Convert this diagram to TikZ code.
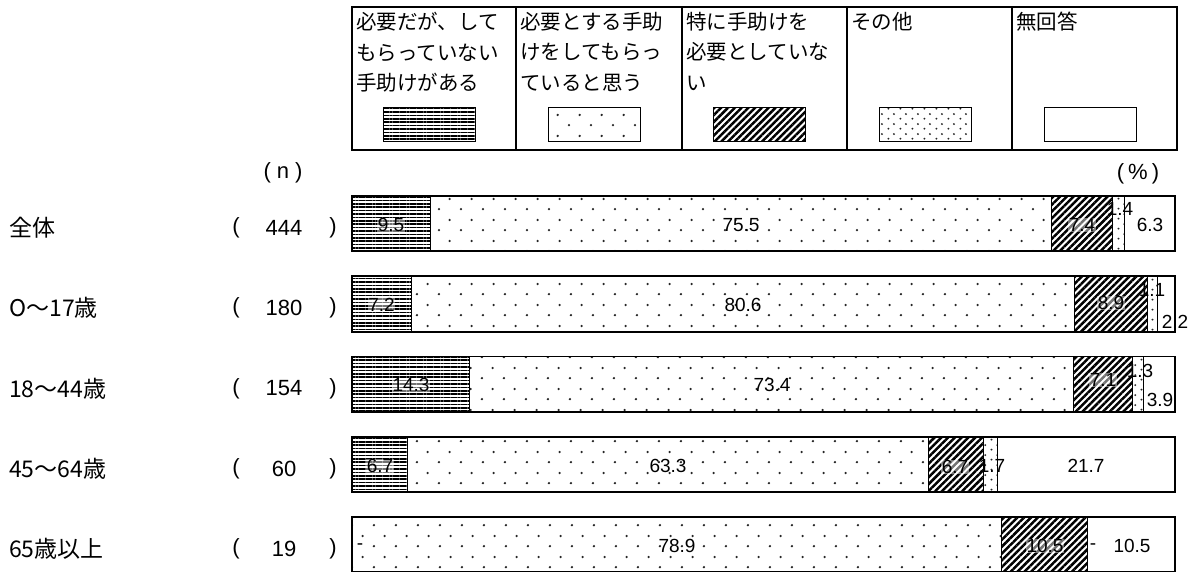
\documentclass[tikz,border=0pt]{standalone}
\usepackage{fontspec}
\setmainfont{Noto Sans CJK JP}
\newfontfamily\numfont{Liberation Sans}
\usetikzlibrary{patterns.meta}

\tikzdeclarepattern{
  name=sparsedots,
  type=uncolored,
  bottom left={(0pt,0pt)},
  top right={(21.7pt,21pt)},
  tile size={(21.7pt,21pt)},
  code={
    \fill (5pt,5pt) circle (1.3pt);
    \fill (15.85pt,15.5pt) circle (1.3pt);
  }
}
\tikzdeclarepattern{
  name=densedots,
  type=uncolored,
  bottom left={(0pt,0pt)},
  top right={(11.5pt,10pt)},
  tile size={(11.5pt,10pt)},
  code={
    \fill (2.5pt,2.5pt) circle (1.1pt);
    \fill (8.25pt,7.5pt) circle (1.1pt);
  }
}

\tikzset{
  bar/.style={draw=black, line width=1.2pt},
  seg/.style={draw=black, line width=0.8pt},
  needs/.style={seg, pattern={Lines[angle=0,distance=3.4pt,line width=1.7pt]}},
  gets/.style={seg, pattern=sparsedots, pattern color=black!85},
  noneed/.style={seg, pattern={Lines[angle=45,distance=4.8pt,line width=2.5pt]}},
  other/.style={seg, pattern=densedots, pattern color=black!85},
  noans/.style={seg, fill=white},
  val/.style={font=\numfont\fontsize{19}{19}\selectfont, inner sep=0.5pt},
  halo/.style={val, fill=white, fill opacity=.45, text opacity=1},
  grp/.style={font=\fontsize{23}{23}\selectfont, anchor=west, inner sep=0pt},
  cnt/.style={font=\numfont\fontsize{22}{22}\selectfont, inner sep=0pt},
  keytext/.style={font=\fontsize{20.5}{30.5}\selectfont, align=left, anchor=north west, inner sep=0pt},
  keybox/.style={draw=black, line width=2.5pt},
  swatch/.style={minimum width=92pt, minimum height=34pt, inner sep=0pt}
}

\begin{document}
\begin{tikzpicture}[x=1pt,y=-1pt]
   \useasboundingbox (0,0) rectangle (1199,571);
   \fill[white] (0,0) rectangle (1199,571);

   % legend
   \draw[keybox] (352,7) rectangle (1177,150);
   \draw[keybox] (516,7) -- (516,150);
   \draw[keybox] (682,7) -- (682,150);
   \draw[keybox] (847,7) -- (847,150);
   \draw[keybox] (1012,7) -- (1012,150);
   \node[keytext] (t1) at (356,12) {必要だが、して\\もらっていない\\手助けがある};
   \node[keytext] (t2) at (520,12) {必要とする手助\\けをしてもらっ\\ていると思う};
   \node[keytext] (t3) at (686,12) {特に手助けを\\必要としていな\\い};
   \node[keytext] (t4) at (851,12) {その他};
   \node[keytext] (t5) at (1016,12) {無回答};
   \node[swatch, needs] (k1) at (429,124) {};
   \node[swatch, gets] (k2) at (594.5,124) {};
   \node[swatch, noneed] (k3) at (759,124) {};
   \node[swatch, other] (k4) at (925,124) {};
   \node[swatch, noans] (k5) at (1090.5,124) {};

   \node[cnt] (n) at (283,173) {(\hspace{6pt}n\hspace{6pt})};
   \node[cnt] (pct) at (1138,174) {(\hspace{4pt}\%\hspace{4pt})};

   % 全体
   \draw[needs] (352,196) rectangle (430.2,251);
   \draw[gets] (430.2,196) rectangle (1051.6,251);
   \draw[noneed] (1051.6,196) rectangle (1112.5,251);
   \draw[other] (1112.5,196) rectangle (1124,251);
   \draw[noans] (1124,196) rectangle (1175,251);
   \draw[bar] (352,196) rectangle (1175,251);
   \node[halo] (v1a) at (391,225) {9.5};
   \node[val] (v1b) at (741,225) {75.5};
   \node[halo] (v1c) at (1082,225) {7.4};
   \node[val] (v1d) at (1120,209) {1.4};
   \node[val] (v1e) at (1150,225) {6.3};

   % 0～17
   \draw[needs] (352,276) rectangle (411.3,332);
   \draw[gets] (411.3,276) rectangle (1074.6,332);
   \draw[noneed] (1074.6,276) rectangle (1147.8,332);
   \draw[other] (1147.8,276) rectangle (1156.9,332);
   \draw[noans] (1156.9,276) rectangle (1175,332);
   \draw[bar] (352,276) rectangle (1175,332);
   \node[halo] (v2a) at (381.6,305) {7.2};
   \node[val] (v2b) at (743,305) {80.6};
   \node[halo] (v2c) at (1111,303) {8.9};
   \node[val] (v2d) at (1152,290) {1.1};
   \node[val] (v2e) at (1175,322) {2.2};

   % 18～44
   \draw[needs] (352,356.5) rectangle (469.7,412);
   \draw[gets] (469.7,356.5) rectangle (1073.8,412);
   \draw[noneed] (1073.8,356.5) rectangle (1132.2,412);
   \draw[other] (1132.2,356.5) rectangle (1142.9,412);
   \draw[noans] (1142.9,356.5) rectangle (1175,412);
   \draw[bar] (352,356.5) rectangle (1175,412);
   \node[halo] (v3a) at (411,385) {14.3};
   \node[val] (v3b) at (772,385) {73.4};
   \node[halo] (v3c) at (1103,380) {7.1};
   \node[val] (v3d) at (1140,371) {1.3};
   \node[val] (v3e) at (1160,400) {3.9};

   % 45～64
   \draw[needs] (352,437) rectangle (407.1,492);
   \draw[gets] (407.1,437) rectangle (928.1,492);
   \draw[noneed] (928.1,437) rectangle (983.2,492);
   \draw[other] (983.2,437) rectangle (997.2,492);
   \draw[noans] (997.2,437) rectangle (1175,492);
   \draw[bar] (352,437) rectangle (1175,492);
   \node[halo] (v4a) at (380,466) {6.7};
   \node[val] (v4b) at (668,466) {63.3};
   \node[halo] (v4c) at (955,467) {6.7};
   \node[val] (v4d) at (992,466) {1.7};
   \node[val] (v4e) at (1086,466) {21.7};

   % 65以上
   \draw[gets] (352,517) rectangle (1001.3,572);
   \draw[noneed] (1001.3,517) rectangle (1087.8,572);
   \draw[noans] (1087.8,517) rectangle (1175,572);
   \draw[bar] (352,517) rectangle (1175,572);
   \node[val] (v5a) at (360,547) {-};
   \node[val] (v5b) at (677,546) {78.9};
   \node[halo] (v5c) at (1045,546) {10.5};
   \node[val] (v5d) at (1093,547) {-};
   \node[val] (v5e) at (1132,546) {10.5};

   % row labels
   \node[grp] (g1) at (9,227.5) {全体};
   \node[grp] (g2) at (9,308) {O～17歳};
   \node[grp] (g3) at (9,388.5) {18～44歳};
   \node[grp] (g4) at (9,468.5) {45～64歳};
   \node[grp] (g5) at (9,548.5) {65歳以上};
   \node[cnt] (o1) at (236,227.5) {(};
   \node[cnt] (c1) at (284,227.5) {444};
   \node[cnt] (e1) at (333,227.5) {)};
   \node[cnt] (o2) at (236,308) {(};
   \node[cnt] (c2) at (284,308) {180};
   \node[cnt] (e2) at (333,308) {)};
   \node[cnt] (o3) at (236,388.5) {(};
   \node[cnt] (c3) at (284,388.5) {154};
   \node[cnt] (e3) at (333,388.5) {)};
   \node[cnt] (o4) at (236,468.5) {(};
   \node[cnt] (c4) at (284,468.5) {60};
   \node[cnt] (e4) at (333,468.5) {)};
   \node[cnt] (o5) at (236,548.5) {(};
   \node[cnt] (c5) at (284,548.5) {19};
   \node[cnt] (e5) at (333,548.5) {)};
\end{tikzpicture}
\end{document}
